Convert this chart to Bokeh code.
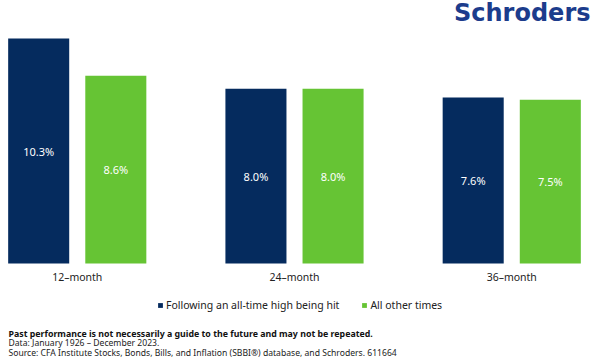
from bokeh.plotting import figure
from bokeh.models import Range1d, ColumnDataSource, Label, Legend, LegendItem
from bokeh.core.properties import value
from bokeh.transform import dodge
from bokeh.embed import file_html
from bokeh.resources import INLINE

# ---- data ----
categories = ["12–month", "24–month", "36–month"]
after_high = [10.3, 8.0, 7.6]
other_times = [8.6, 8.0, 7.5]
series_names = ["Following an all-time high being hit", "All other times"]
footer_bold = "Past performance is not necessarily a guide to the future and may not be repeated."
footer_lines = [
    "Data: January 1926 – December 2023.",
    "Source: CFA Institute Stocks, Bonds, Bills, and Inflation (SBBI®) database, and Schroders. 611664",
]
logo_text = "Schroders"

# ---- style ----
NAVY = "#052b5e"
GREEN = "#66c434"
LOGO = "#1c3c8c"
TXT = "#222222"
FONT = "Noto Sans"

W, H = 602, 364
px_per_cat = 217.25
x0 = 76.75
base_py = 263.0
ppu = 225.0 / 10.3

xs = list(range(len(categories)))
src = ColumnDataSource(dict(
    x=xs,
    a=after_high,
    b=other_times,
    ma=[v / 2 for v in after_high],
    mb=[v / 2 for v in other_times],
    la=[f"{v:.1f}%" for v in after_high],
    lb=[f"{v:.1f}%" for v in other_times],
    cat=categories,
    zero=[0] * len(categories),
))

p = figure(
    width=W, height=H,
    x_range=Range1d(-x0 / px_per_cat, (W - x0) / px_per_cat),
    y_range=Range1d(-(H - base_py) / ppu, base_py / ppu),
    output_backend="svg", toolbar_location=None,
    min_border=0, x_axis_location=None, y_axis_location=None,
)
p.styles = {"margin": "0px"}
p.outline_line_color = None
p.grid.visible = False
p.background_fill_color = "white"
p.border_fill_color = "white"

off = 0.1775
bw = 0.281
r1 = p.vbar(x=dodge("x", -off), top="a", width=bw, fill_color=NAVY, line_color=None, source=src)
r2 = p.vbar(x=dodge("x", off), top="b", width=bw, fill_color=GREEN, line_color=None, source=src)

p.text(x=dodge("x", -off), y="ma", text="la", source=src, text_color="white",
       text_font=value(FONT), text_font_size="11px", text_align="center", text_baseline="middle")
p.text(x=dodge("x", off), y="mb", text="lb", source=src, text_color="white",
       text_font=value(FONT), text_font_size="11px", text_align="center", text_baseline="middle")

# category labels
p.text(x="x", y="zero", text="cat", source=src, y_offset=13, text_color=TXT,
       text_font=value(FONT), text_font_size="10.5px", text_align="center", text_baseline="middle")

legend = Legend(
    items=[LegendItem(label=series_names[0], renderers=[r1]),
           LegendItem(label=series_names[1], renderers=[r2])],
    orientation="horizontal", location=(157, 52),
    glyph_width=6, glyph_height=6, label_height=6, label_standoff=3, spacing=22,
    padding=0, margin=0, border_line_color=None, background_fill_alpha=0,
    label_text_font=FONT, label_text_font_size="10.5px", label_text_color=TXT,
    label_text_baseline="middle",
)
p.add_layout(legend, "center")

p.add_layout(Label(x=8, y=31, x_units="screen", y_units="screen", text=footer_bold,
                   text_font=FONT, text_font_size="8.8px", text_font_style="bold",
                   text_color="#111111", text_baseline="alphabetic"))
for i, t in enumerate(footer_lines):
    p.add_layout(Label(x=8, y=21.5 - 9.5 * i, x_units="screen", y_units="screen", text=t,
                       text_font=FONT, text_font_size="8.6px", text_color=TXT,
                       text_baseline="alphabetic"))

p.add_layout(Label(x=590, y=H - 12, x_units="screen", y_units="screen", text=logo_text,
                   text_font="DejaVu Sans", text_font_size="24px", text_font_style="bold",
                   text_color=LOGO, text_align="right", text_baseline="alphabetic"))

open("out.html", "w").write(file_html(p, INLINE))
